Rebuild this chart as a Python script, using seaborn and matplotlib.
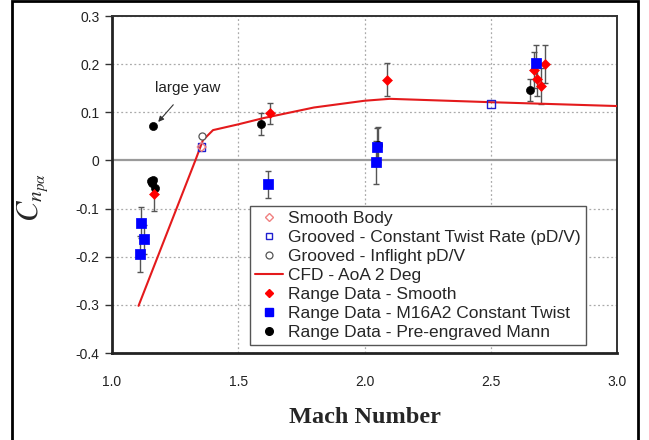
import numpy as np
import pandas as pd
import matplotlib
matplotlib.use("Agg")
import matplotlib.pyplot as plt
import seaborn as sns
from matplotlib.patches import Rectangle
from matplotlib.lines import Line2D

# Values
cfd_mach = [1.105, 1.33, 1.36, 1.40, 1.50, 1.60, 1.80, 2.00, 2.10, 2.50, 3.00]
cfd_c = [-0.302, 0.0, 0.042, 0.063, 0.075, 0.088, 0.110, 0.124, 0.128, 0.121, 0.113]

smooth_body_mach = [1.355]
smooth_body_c = [0.028]
grooved_const_mach = [1.355, 2.501]
grooved_const_c = [0.028, 0.117]
grooved_inflight_mach = [1.355]
grooved_inflight_c = [0.051]

range_smooth_mach = [1.166, 1.626, 2.088, 2.673, 2.683, 2.699, 2.713]
range_smooth_c = [-0.070, 0.098, 0.168, 0.188, 0.169, 0.155, 0.200]
range_smooth_err = [0.034, 0.022, 0.034, 0.038, 0.035, 0.037, 0.040]

range_m16_mach = [1.111, 1.116, 1.128, 1.618, 2.044, 2.048, 2.678]
range_m16_c = [-0.194, -0.129, -0.164, -0.049, -0.004, 0.028, 0.202]
range_m16_err = [0.037, 0.033, 0.030, 0.028, 0.045, 0.040, 0.038]

range_mann_mach = [1.155, 1.160, 1.164, 1.169, 1.161, 1.589, 2.052, 2.655]
range_mann_c = [-0.043, -0.047, -0.041, -0.057, 0.072, 0.076, 0.033, 0.146]
range_mann_err = [0.0, 0.0, 0.0, 0.0, 0.0, 0.023, 0.036, 0.023]

x_ticks = [1.0, 1.5, 2.0, 2.5, 3.0]
y_ticks = [-0.4, -0.3, -0.2, -0.1, 0.0, 0.1, 0.2, 0.3]

sns.set_style("white")
plt.rcParams["font.family"] = ["Liberation Sans", "DejaVu Sans"]
plt.rcParams["axes.unicode_minus"] = False
plt.rcParams["mathtext.fontset"] = "stix"

fig = plt.figure(figsize=(6.49, 4.40), dpi=100)
ax = fig.add_axes([0.1726, 0.1977, 0.7781, 0.7659])

# grid and zero line
for y in y_ticks:
    if y != 0.0:
        ax.axhline(y, color="#aaaaaa", lw=0.9, ls=(0, (1.5, 2)), zorder=0)
for x in x_ticks[1:-1]:
    ax.axvline(x, color="#aaaaaa", lw=0.9, ls=(0, (1.5, 2)), zorder=0)
ax.axhline(0, color="#9a9a9a", lw=1.6, zorder=1)

# CFD line
cfd = pd.DataFrame({"Mach": cfd_mach, "C": cfd_c})
sns.lineplot(data=cfd, x="Mach", y="C", ax=ax, color="#e41a1c", lw=1.5, zorder=3)

# error bars
ebkw = dict(fmt="none", ecolor="#555555", elinewidth=1.0, capsize=2.5, capthick=1.0, zorder=2)
ax.errorbar(range_smooth_mach, range_smooth_c, yerr=range_smooth_err, **ebkw)
ax.errorbar(range_m16_mach, range_m16_c, yerr=range_m16_err, **ebkw)
mask = [e > 0 for e in range_mann_err]
ax.errorbar([m for m, k in zip(range_mann_mach, mask) if k],
            [c for c, k in zip(range_mann_c, mask) if k],
            yerr=[e for e in range_mann_err if e > 0], **ebkw)

# open markers
sns.scatterplot(x=grooved_inflight_mach, y=grooved_inflight_c, ax=ax, marker="o", s=26,
                facecolor="white", edgecolor="#555555", linewidth=0.9, zorder=4)
sns.scatterplot(x=grooved_const_mach, y=grooved_const_c, ax=ax, marker="s", s=30,
                facecolor="none", edgecolor="#1f1fd0", linewidth=1.0, zorder=4)
sns.scatterplot(x=smooth_body_mach, y=smooth_body_c, ax=ax, marker="D", s=20,
                facecolor="none", edgecolor="#f08080", linewidth=1.0, zorder=5)

# filled range data markers
sns.scatterplot(x=range_mann_mach, y=range_mann_c, ax=ax, marker="o", s=34,
                color="black", edgecolor="black", zorder=6)
sns.scatterplot(x=range_smooth_mach, y=range_smooth_c, ax=ax, marker="D", s=26,
                color="#ff0000", edgecolor="#ff0000", zorder=6)
sns.scatterplot(x=range_m16_mach, y=range_m16_c, ax=ax, marker="s", s=44,
                color="#0000ff", edgecolor="#0000ff", zorder=7)

ax.annotate("large yaw", xy=(1.183, 0.080), xytext=(1.30, 0.150),
            ha="center", va="center", fontsize=11, color="#222222",
            arrowprops=dict(arrowstyle="-|>", color="#333333", lw=0.8,
                            mutation_scale=8, shrinkA=6, shrinkB=0))

ax.set_xlim(1.0, 3.0)
ax.set_ylim(-0.4, 0.3)
ax.set_xticks(x_ticks)
ax.set_yticks(y_ticks)
ax.set_xticklabels([f"{v:.1f}" for v in x_ticks], fontsize=10, color="#222222")
ax.set_yticklabels(["0" if v == 0 else f"{v:.1f}" for v in y_ticks], fontsize=10, color="#222222")
ax.tick_params(axis="x", length=0, pad=16)
ax.tick_params(axis="y", length=5, width=1, direction="out", left=True, pad=4, color="#333333")

for side in ["top", "right"]:
    ax.spines[side].set_color("#333333")
    ax.spines[side].set_linewidth(1.4)
for side in ["left", "bottom"]:
    ax.spines[side].set_color("#222222")
    ax.spines[side].set_linewidth(2.0)

ax.set_xlabel("Mach Number", fontsize=17.5, fontweight="bold", family="Liberation Serif", labelpad=13)
ax.set_ylabel(r"$C_{n_{p\alpha}}$", fontsize=22, rotation=90)
ax.yaxis.set_label_coords(-0.12, 0.46)

handles = [
    Line2D([], [], ls="none", marker="D", ms=4, mfc="none", mec="#f08080", mew=1.0),
    Line2D([], [], ls="none", marker="s", ms=5, mfc="none", mec="#1f1fd0", mew=1.0),
    Line2D([], [], ls="none", marker="o", ms=5, mfc="none", mec="#555555", mew=0.9),
    Line2D([], [], color="#e41a1c", lw=1.5),
    Line2D([], [], ls="none", marker="D", ms=4.5, color="#ff0000"),
    Line2D([], [], ls="none", marker="s", ms=5.5, color="#0000ff"),
    Line2D([], [], ls="none", marker="o", ms=5.5, color="black"),
]
labels = ["Smooth Body", "Grooved - Constant Twist Rate (pD/V)", "Grooved - Inflight pD/V",
          "CFD - AoA 2 Deg", "Range Data - Smooth", "Range Data - M16A2 Constant Twist",
          "Range Data - Pre-engraved Mann"]
leg = ax.legend(handles, labels, loc="upper left", bbox_to_anchor=(0.273, 0.436),
                fontsize=12.5, frameon=True, fancybox=False, framealpha=1,
                edgecolor="#555555", borderpad=0.3, labelspacing=0.22,
                handlelength=1.6, handletextpad=0.3, borderaxespad=0)
leg.get_frame().set_linewidth(1.0)

# outer frame around the figure
fig.patches.append(Rectangle((12 / 649, -0.05), (638 - 12) / 649, 1.048,
                             transform=fig.transFigure, fill=False,
                             edgecolor="black", lw=2.0))

fig.savefig("out.png", dpi=100)
